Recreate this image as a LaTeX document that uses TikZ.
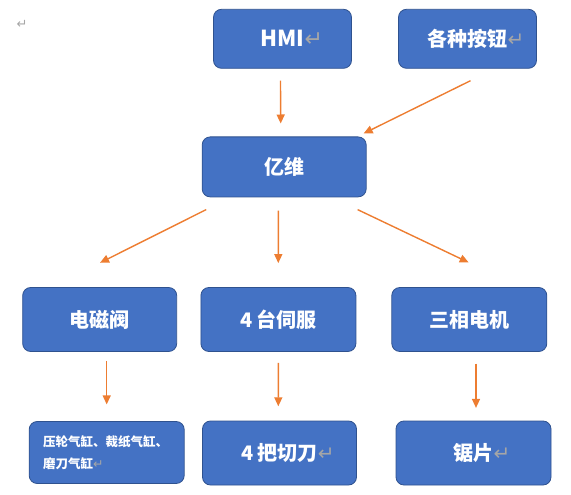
\documentclass[tikz,border=0pt]{standalone}
\usepackage{fontspec}
\usepackage{xcolor}
\usetikzlibrary{arrows.meta,positioning,calc}
\setmainfont{Noto Sans CJK SC}
\newfontfamily\markfont{DejaVu Sans}
\definecolor{boxblue}{HTML}{4472C4}
\definecolor{boxline}{HTML}{2F528F}
\definecolor{arrorange}{HTML}{ED7D31}
\newcommand{\pmark}{\textcolor{gray!70}{\markfont\mdseries ↵}}

\begin{document}
\begin{tikzpicture}[x=1pt, y=-1pt,
    box/.style={rectangle, rounded corners=8pt, draw=boxline, line width=0.8pt, fill=boxblue,
        text=white, font=\fontsize{20}{24}\selectfont\bfseries, inner sep=0pt, minimum height=64pt},
    arr/.style={draw=arrorange, line width=1.4pt, -{Triangle[length=9pt,width=8pt]}}]
    \useasboundingbox (0,0) rectangle (571,495);
    \node[font=\fontsize{13}{15}\selectfont] (para) at (22,24) {\pmark};
    \node[box, minimum width=138pt, minimum height=59pt] (hmi) at (282.5,38.8) {\fontsize{22}{24}\selectfont HMI\rlap{\pmark}};
    \node[box, minimum width=138pt, minimum height=59pt] (anniu) at (467.5,38.8) {各种按钮\rlap{\pmark}};
    \node[box, minimum width=164pt, minimum height=60pt] (yiwei) at (284.2,166.9) {亿维};
    \node[box, minimum width=154pt] (dcf) at (99.7,319.5) {电磁阀};
    \node[box, minimum width=155pt] (sifu) at (278.4,319.5) {4 台伺服};
    \node[box, minimum width=155pt] (dianji) at (469.3,319.5) {三相电机};
    \node[box, minimum width=155pt, minimum height=62pt, text width=127pt, align=left,
        font=\fontsize{12.5}{21.6}\selectfont\bfseries] (qigang) at (106.7,452.5)
        {压轮气缸、裁纸气缸、\\磨刀气缸\pmark};
    \node[box, minimum width=154pt] (qiedao) at (279.5,453) {4 把切刀\rlap{\pmark}};
    \node[box, minimum width=155pt] (jupian) at (473.5,453) {锯片\rlap{\pmark}};

    \draw[arr] ([shift={(-2,12)}]hmi.south) -- ([shift={(-3.5,-13)}]yiwei.north);
    \draw[arr] ([shift={(3,12)}]anniu.south) -- ([shift={(-3,-3)}]yiwei.north east);
    \draw[arr] ([shift={(4.4,12.3)}]yiwei.south west) -- ([shift={(0.3,-24.3)}]dcf.north);
    \draw[arr] ([shift={(-5.9,13.3)}]yiwei.south) -- ([shift={(-0.1,-24)}]sifu.north);
    \draw[arr] ([shift={(-9,12.3)}]yiwei.south east) -- ([shift={(-0.6,-24.6)}]dianji.north);
    \draw[arr] ([shift={(7,9)}]dcf.south) -- ([shift={(0,-16.7)}]qigang.north);
    \draw[arr] ([shift={(0,11)}]sifu.south) -- ([shift={(-1.2,-14.3)}]qiedao.north);
    \draw[arr] ([shift={(6.7,11.6)}]dianji.south) -- ([shift={(2.5,-12.7)}]jupian.north);
\end{tikzpicture}
\end{document}
